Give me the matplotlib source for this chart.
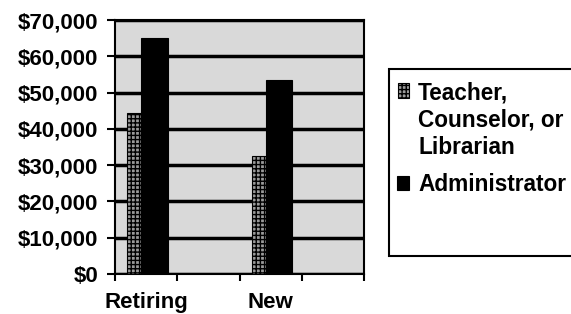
import matplotlib
matplotlib.use("Agg")
import matplotlib.pyplot as plt
from matplotlib.patches import Rectangle
from matplotlib.ticker import FuncFormatter

categories = ["Retiring", "", "New", ""]
teacher = [44500, 0, 32500, 0]
admin = [65000, 0, 53500, 0]
series_names = ["Teacher,\nCounselor, or\nLibrarian", "Administrator"]
yticks = [0, 10000, 20000, 30000, 40000, 50000, 60000, 70000]

W, H = 571, 314
FONT = "Liberation Sans"
fig = plt.figure(figsize=(W / 100, H / 100), dpi=100)
fig.patch.set_facecolor("white")

ax = fig.add_axes([115 / W, (H - 274) / H, 249 / W, 254 / H])
ax.set_facecolor("#d9d9d9")

x = list(range(len(categories)))
tw, aw = 0.225, 0.43
t_off, a_off = -0.19, 0.135
teacher_color = "#9a9a9a"
ax.bar([i + t_off for i in x], teacher, width=tw, color=teacher_color,
       edgecolor="black", linewidth=0.8, hatch="++++", zorder=3)
ax.bar([i + a_off for i in x], admin, width=aw, color="black",
       edgecolor="black", linewidth=0.8, zorder=3)

ax.set_xlim(-0.5, len(categories) - 0.5)
ax.set_ylim(0, 70000)
ax.set_yticks(yticks)
ax.yaxis.set_major_formatter(FuncFormatter(lambda v, p: f"${int(v):,}"))
ax.grid(axis="y", color="black", linewidth=2.5, zorder=1)
ax.set_axisbelow(True)

ax.set_xticks(x)
ax.set_xticklabels(categories)
ax.set_xticks([i - 0.5 for i in range(len(categories) + 1)], minor=True)
ax.tick_params(axis="x", which="major", length=0, pad=13)
ax.tick_params(axis="x", which="minor", length=5, width=1.5, direction="out")
ax.tick_params(axis="y", length=6, width=1.5, direction="out", pad=6)

for lab in ax.get_xticklabels() + ax.get_yticklabels():
    lab.set_fontfamily(FONT)
    lab.set_fontweight("bold")
    lab.set_fontsize(16)

for s in ax.spines.values():
    s.set_linewidth(1.5)

# legend box (drawn manually to match the original layout)
fig.patches.append(Rectangle((389 / W, (H - 256) / H), (W + 5 - 389) / W, 187 / H,
                             transform=fig.transFigure, facecolor="white",
                             edgecolor="black", linewidth=1.5, zorder=0))
fig.patches.append(Rectangle((398 / W, (H - 98) / H), 11 / W, 15 / H,
                             transform=fig.transFigure, facecolor=teacher_color,
                             edgecolor="black", linewidth=0.8, hatch="++++", zorder=2))
fig.patches.append(Rectangle((397 / W, (H - 190) / H), 12 / W, 14 / H,
                             transform=fig.transFigure, facecolor="black",
                             edgecolor="black", linewidth=0.8, zorder=2))
fig.text(418 / W, (H - 81) / H, series_names[0], ha="left", va="top",
         fontfamily=FONT, fontweight="bold", fontsize=16.3, linespacing=1.25)
fig.text(418 / W, (H - 173) / H, series_names[1], ha="left", va="top",
         fontfamily=FONT, fontweight="bold", fontsize=16.3)

fig.savefig("out.png", dpi=100)
